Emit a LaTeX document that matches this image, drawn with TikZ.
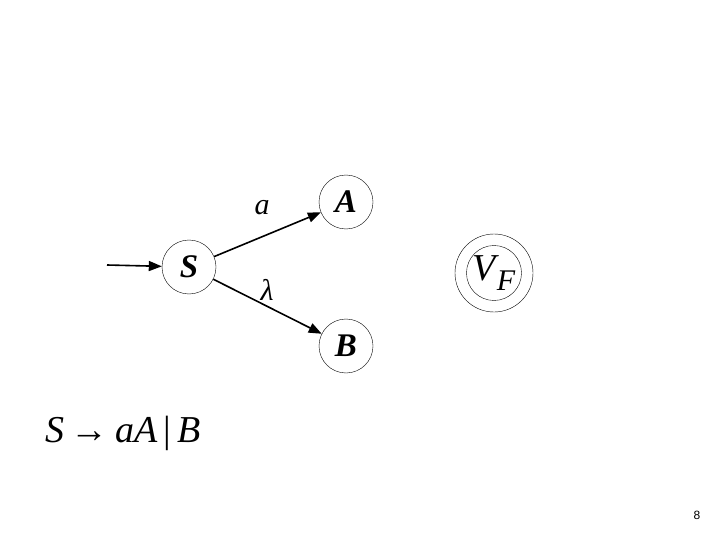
\documentclass[tikz,border=0pt]{standalone}
\usepackage{fontspec}
\setmainfont{Liberation Serif}
\newfontfamily\pagenumfont{Liberation Sans}
\usetikzlibrary{arrows.meta}
\tikzset{
  stnode/.style   = {circle,draw,thin,minimum size=54pt,inner sep=0pt,
                     font=\fontsize{33}{33}\selectfont\bfseries\itshape},
  transarr/.style = {-{Triangle[length=13pt,width=10pt]},line width=1.6pt},
  translbl/.style = {font=\fontsize{30}{30}\selectfont\itshape}
}
\newcommand{\finalmark}[2]{%
  \node[circle,draw,thin,minimum size=78pt,inner sep=0pt] (#1out) at (#2) {};
  \node[circle,draw,thin,minimum size=52pt,inner sep=0pt] (#1) at (#2)
    {\fontsize{38}{38}\selectfont\itshape V\kern1pt\raisebox{-10pt}{\fontsize{30}{30}\selectfont F}};
}

\begin{document}
\begin{tikzpicture}[x=1pt,y=-1pt]
  \useasboundingbox[fill=white] (0,0) rectangle (720,540);
  \node[stnode] (S) at (189,267) {S};
  \node[stnode] (A) at (346,202) {A};
  \node[stnode] (B) at (346,346) {B};
  \finalmark{VF}{494,273}
  \coordinate (init) at (107,265);
  \draw[transarr] (init) -- (S);
  \draw[transarr] (S) -- (A);
  \draw[transarr] (S) -- (B);
  \node[translbl] (la) at (262,208) {a};
  \node[translbl] (llam) at (267,290) {λ};
  \node[anchor=base west,font=\fontsize{38}{38}\selectfont] (rule) at (42,442)
    {\textit{S}\,→\,\textit{aA}\,|\,\textit{B}};
  \node[font=\pagenumfont\fontsize{12}{12}\selectfont] (pnum) at (697,515) {8};
\end{tikzpicture}
\end{document}
